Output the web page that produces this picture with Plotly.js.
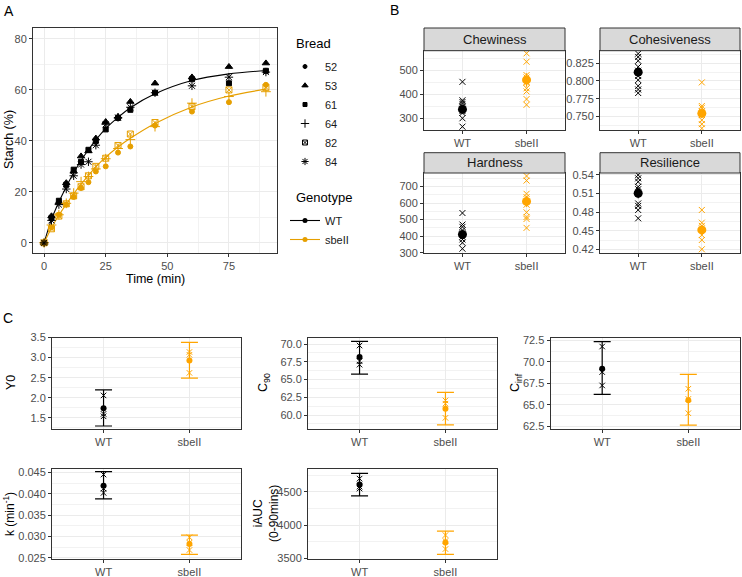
<!DOCTYPE html>
<html>
<head>
<meta charset="utf-8">
<script src="https://cdn.plot.ly/plotly-3.0.1.min.js"></script>
<style>
html,body{margin:0;padding:0;background:#fff}
#chart{width:742px;height:577px}
</style>
</head>
<body>
<div id="chart"></div>
<script>
// ---------- Panel A: starch digested over time, per bread ----------
const timeMin = [0, 3, 6, 9, 12, 15, 18, 21, 25, 30, 35, 45, 60, 75, 90];
// WT breads
const starch53 = [0, 10.5, 16, 23.5, 28, 34, 36, 41, 47.5, 49.5, 55.4, 62.6, 65, 69.1, 70.5];
const starch61 = [0, 9.8, 16.5, 22.8, 28.7, 31.8, 36.5, 40, 44.5, 49, 52.2, 58.9, 64.2, 62.6, 67.5];
const starch84 = [0, 8.8, 15, 21.1, 26.3, 30.7, 31.8, 38.3, 46.5, 49.2, 53.2, 58.9, 61.6, 65, 67];
// sbeII breads
const starch52 = [0, 6, 11, 15, 18, 21.5, 23.8, 28, 30, 35.4, 37.8, 46, 51.5, 55.2, 62];
const starch64 = [0, 7, 11, 15.5, 19.5, 24, 26, 29, 33, 37, 40.5, 45.6, 54.8, 57.4, 59.3];
const starch82 = [0, 5.5, 10.5, 15.3, 18.4, 22, 26.3, 30, 33.2, 38.2, 42.7, 47.2, 53.5, 60, 61];
// fitted digestion curves
const fitWT = [0, 9.2, 16, 22, 27.5, 32.3, 36.5, 40.4, 44.8, 49.2, 53, 58.5, 63.7, 66.3, 67.6];
const fitSbe = [0, 5.8, 10.8, 15.2, 19.2, 23, 26.5, 29.8, 33.6, 37.6, 41, 46.8, 53.3, 57.6, 60.3];
const breadLabels = ['52', '53', '61', '64', '82', '84'];
const genotypeLabels = ['WT', 'sbeII'];

// ---------- Panel B: texture profile ----------
const facetNames = ['Chewiness', 'Cohesiveness', 'Hardness', 'Resilience'];
const chewWT = [452, 375, 368, 360, 350, 340, 330, 322, 300, 265];
const chewSbe = [571, 536, 480, 470, 452, 448, 425, 412, 380, 356];
const chewMean = [337, 460];
const chewSE = [13, 28];
const cohWT = [0.8386, 0.834, 0.8286, 0.820, 0.8145, 0.807, 0.8014, 0.793, 0.788, 0.783];
const cohSbe = [0.798, 0.7646, 0.762, 0.7565, 0.7518, 0.7447, 0.739, 0.733];
const cohMean = [0.8125, 0.7542];
const cohSE = [0.0055, 0.006];
const hardWT = [540, 470, 456, 436, 416, 396, 380, 360, 324];
const hardSbe = [764, 736, 656, 636, 590, 544, 516, 504, 450];
const hardMean = [410, 610];
const hardSE = [20, 33];
const resWT = [0.540, 0.5346, 0.529, 0.521, 0.517, 0.494, 0.490, 0.4835, 0.470];
const resSbe = [0.4835, 0.463, 0.4578, 0.443, 0.435, 0.420];
const resMean = [0.5105, 0.4513];
const resSE = [0.008, 0.0075];

// ---------- Panel C: kinetic parameters (mean with interval) ----------
const y0WT = [2.06, 1.6, 1.54], y0Sbe = [3.14, 3.07, 2.62];
const y0Mean = [1.74, 2.93], y0Upper = [2.2, 3.38], y0Lower = [1.3, 2.49];
const c90WT = [69.8, 67.6, 67.1], c90Sbe = [62.06, 61.6, 59.6];
const c90Mean = [68.18, 60.9], c90Upper = [70.37, 63.2], c90Lower = [65.77, 58.6];
const cinfWT = [71.8, 68.83, 67.27], cinfSbe = [66.88, 65.7, 64.04];
const cinfMean = [69.2, 65.54], cinfUpper = [72.38, 68.55], cinfLower = [66.22, 62.65];
const kWT = [0.0445, 0.0412, 0.0402], kSbe = [0.0298, 0.0285, 0.0268];
const kMean = [0.0419, 0.0282], kUpper = [0.0452, 0.0303], kLower = [0.0388, 0.0258];
const aucWT = [4700, 4580, 4550], aucSbe = [3850, 3760, 3640];
const aucMean = [4610, 3740], aucUpper = [4780, 3910], aucLower = [4440, 3560];

// ---------- drawing ----------
const W = 742, H = 577;
const fx = p => p / W;
const fy = p => 1 - p / H;
const FONT = '"Liberation Sans", Arial, Helvetica, sans-serif';
const BLACK = '#000000';
const ORANGE_A = '#E69F00';
const ORANGE = '#FFA500';
const catX = [1, 2];

const layout = {
  width: W, height: H,
  margin: {l: 0, r: 0, t: 0, b: 0},
  paper_bgcolor: '#ffffff', plot_bgcolor: '#ffffff',
  font: {family: FONT, size: 11, color: '#4D4D4D'},
  showlegend: true,
  shapes: [], annotations: []
};

const baseAxis = {
  showline: true, mirror: true, linecolor: '#333333', linewidth: 1,
  ticks: 'outside', ticklen: 3, tickwidth: 1, tickcolor: '#333333',
  showgrid: true, gridcolor: '#EBEBEB', gridwidth: 1,
  zeroline: false, fixedrange: true,
  tickfont: {family: FONT, size: 11, color: '#4D4D4D'}
};

function addAxes(n, x0, x1, y0, y1, xopt, yopt) {
  const s = n === 1 ? '' : String(n);
  layout['xaxis' + s] = Object.assign({}, baseAxis, {domain: [fx(x0), fx(x1)], anchor: 'y' + s}, xopt);
  layout['yaxis' + s] = Object.assign({}, baseAxis, {domain: [fy(y1), fy(y0)], anchor: 'x' + s}, yopt);
}

const catAxis = {range: [0.4, 2.6], tickmode: 'array', tickvals: catX, ticktext: genotypeLabels};
function linAxis(range, dtick, fmt) {
  return {range: range, tick0: 0, dtick: dtick, tickformat: fmt || '',
    minor: {showgrid: true, gridcolor: '#F2F2F2', gridwidth: 1, dtick: dtick / 2, tick0: 0, ticks: ''}};
}

// Panel A axes
addAxes(1, 33, 277, 28, 253, linAxis([-4.5, 94.5], 25), linAxis([-4, 84.3], 20));

// Panel B facets
addAxes(2, 424, 565, 50.7, 130, catAxis, linAxis([251, 582], 100));
addAxes(3, 600, 740, 50.7, 130, catAxis, linAxis([0.7307, 0.8428], 0.025, '.3f'));
addAxes(4, 424, 565, 173, 253, catAxis, linAxis([298, 782], 100));
addAxes(5, 600, 740, 173, 253, catAxis, linAxis([0.414, 0.5432], 0.03, '.2f'));

// Panel C panels
addAxes(6, 52, 241, 337.5, 429, catAxis, linAxis([1.225, 3.5], 0.5, '.1f'));
addAxes(7, 308, 497, 337.5, 429, catAxis, linAxis([58.03, 70.93], 2.5, '.1f'));
addAxes(8, 550.5, 740, 337.5, 429, catAxis, linAxis([62.2, 72.85], 2.5, '.1f'));
addAxes(9, 52, 241, 469, 559, catAxis, linAxis([0.0247, 0.0458], 0.005, '.3f'));
addAxes(10, 308, 497, 469, 559, catAxis, linAxis([3490, 4845], 500));

const traces = [];

// --- Panel A traces ---
const breadSeries = [
  {vals: starch52, sym: 'circle', col: ORANGE_A, size: 5},
  {vals: starch53, sym: 'triangle-up', col: BLACK, size: 6.5},
  {vals: starch61, sym: 'square', col: BLACK, size: 5},
  {vals: starch64, sym: 'cross-thin-open', col: ORANGE_A, size: 7},
  {vals: starch82, sym: 'square-x-open', col: ORANGE_A, size: 6},
  {vals: starch84, sym: 'asterisk-open', col: BLACK, size: 7}
];
traces.push({type: 'scatter', mode: 'lines', x: timeMin, y: fitWT, xaxis: 'x', yaxis: 'y',
  line: {color: BLACK, width: 1.1, shape: 'spline', smoothing: 0.8}, showlegend: false, hoverinfo: 'skip'});
traces.push({type: 'scatter', mode: 'lines', x: timeMin, y: fitSbe, xaxis: 'x', yaxis: 'y',
  line: {color: ORANGE_A, width: 1.1, shape: 'spline', smoothing: 0.8}, showlegend: false, hoverinfo: 'skip'});
breadSeries.forEach((b, i) => {
  traces.push({type: 'scatter', mode: 'markers', x: timeMin, y: b.vals, xaxis: 'x', yaxis: 'y',
    name: breadLabels[i], showlegend: false, cliponaxis: false,
    marker: {symbol: b.sym, size: b.size, color: b.col, line: {color: b.col, width: 1}}});
});
// legend keys: Bread (black symbols)
breadSeries.forEach((b, i) => {
  traces.push({type: 'scatter', mode: 'markers', x: [null], y: [null], xaxis: 'x', yaxis: 'y',
    name: breadLabels[i], legend: 'legend', showlegend: true,
    marker: {symbol: b.sym, size: b.size - 1, color: BLACK, line: {color: BLACK, width: 1}}});
});
// legend keys: Genotype
[[genotypeLabels[0], BLACK], [genotypeLabels[1], ORANGE_A]].forEach(g => {
  traces.push({type: 'scatter', mode: 'lines+markers', x: [null], y: [null], xaxis: 'x', yaxis: 'y',
    name: g[0], legend: 'legend2', showlegend: true,
    line: {color: g[1], width: 1.1}, marker: {symbol: 'circle', size: 5, color: g[1]}});
});

// --- Panel B traces ---
function facet(n, wt, sbe, mean, se) {
  const ax = 'x' + n, ay = 'y' + n;
  [[wt, 1, BLACK], [sbe, 2, ORANGE]].forEach(g => {
    traces.push({type: 'scatter', mode: 'markers', x: g[0].map(() => g[1]), y: g[0], xaxis: ax, yaxis: ay,
      showlegend: false, marker: {symbol: 'x-thin-open', size: 6, color: g[2], line: {color: g[2], width: 1}}});
  });
  [[0, BLACK], [1, ORANGE]].forEach(g => {
    const i = g[0];
    traces.push({type: 'scatter', mode: 'markers', x: [catX[i]], y: [mean[i]], xaxis: ax, yaxis: ay, showlegend: false,
      error_y: {type: 'data', array: [se[i]], visible: true, thickness: 1.2, width: 0, color: g[1]},
      marker: {symbol: 'circle', size: 9, color: g[1]}});
  });
}
facet(2, chewWT, chewSbe, chewMean, chewSE);
facet(3, cohWT, cohSbe, cohMean, cohSE);
facet(4, hardWT, hardSbe, hardMean, hardSE);
facet(5, resWT, resSbe, resMean, resSE);

// --- Panel C traces ---
function param(n, wt, sbe, mean, upper, lower) {
  const ax = 'x' + n, ay = 'y' + n;
  [[0, BLACK], [1, ORANGE]].forEach(g => {
    const i = g[0];
    traces.push({type: 'scatter', mode: 'markers', x: [catX[i]], y: [mean[i]], xaxis: ax, yaxis: ay, showlegend: false,
      error_y: {type: 'data', symmetric: false, array: [upper[i] - mean[i]], arrayminus: [mean[i] - lower[i]],
        visible: true, thickness: 1.2, width: 8.5, color: g[1]},
      marker: {symbol: 'circle', size: 6, color: g[1]}});
  });
  [[wt, 1, BLACK], [sbe, 2, ORANGE]].forEach(g => {
    traces.push({type: 'scatter', mode: 'markers', x: g[0].map(() => g[1]), y: g[0], xaxis: ax, yaxis: ay,
      showlegend: false, marker: {symbol: 'x-thin-open', size: 5.5, color: g[2], line: {color: g[2], width: 1}}});
  });
}
param(6, y0WT, y0Sbe, y0Mean, y0Upper, y0Lower);
param(7, c90WT, c90Sbe, c90Mean, c90Upper, c90Lower);
param(8, cinfWT, cinfSbe, cinfMean, cinfUpper, cinfLower);
param(9, kWT, kSbe, kMean, kUpper, kLower);
param(10, aucWT, aucSbe, aucMean, aucUpper, aucLower);

// --- legends (titles drawn as separate labels) ---
const legendBase = {
  xanchor: 'left', yanchor: 'top',
  font: {family: FONT, size: 11, color: '#1A1A1A'},
  bgcolor: 'rgba(0,0,0,0)', borderwidth: 0, itemwidth: 30, tracegroupgap: 0
};
layout.legend = Object.assign({}, legendBase, {x: fx(285), y: fy(52)});
layout.legend2 = Object.assign({}, legendBase, {x: fx(285), y: fy(206)});
function leftLabel(text, px, py) {
  layout.annotations.push({xref: 'paper', yref: 'paper', x: fx(px), y: fy(py), text: text, showarrow: false,
    xanchor: 'left', yanchor: 'middle', font: {family: FONT, size: 13, color: '#000'}});
}
leftLabel('Bread', 294, 43);
leftLabel('Genotype', 294, 197);

// --- facet strips ---
const strips = [
  [424, 565, 28, 50.7, facetNames[0]],
  [600, 740, 28, 50.7, facetNames[1]],
  [424, 565, 152.7, 173, facetNames[2]],
  [600, 740, 152.7, 173, facetNames[3]]
];
strips.forEach(s => {
  layout.shapes.push({type: 'rect', xref: 'paper', yref: 'paper', x0: fx(s[0]), x1: fx(s[1]), y0: fy(s[3]), y1: fy(s[2]),
    fillcolor: '#D9D9D9', line: {color: '#333333', width: 1}, layer: 'above'});
  layout.annotations.push({xref: 'paper', yref: 'paper', x: fx((s[0] + s[1]) / 2), y: fy((s[2] + s[3]) / 2),
    text: s[4], showarrow: false, font: {family: FONT, size: 13, color: '#1A1A1A'}, xanchor: 'center', yanchor: 'middle'});
});

// --- text labels ---
function label(text, px, py, size, angle) {
  layout.annotations.push({xref: 'paper', yref: 'paper', x: fx(px), y: fy(py), text: text, showarrow: false,
    textangle: angle || 0, xanchor: 'center', yanchor: 'middle', font: {family: FONT, size: size, color: '#000'}});
}
label('A', 9, 11, 14);
label('B', 394, 10, 14);
label('C', 8, 318, 14);
label('Starch (%)', 9, 140, 12.5, -90);
label('Time (min)', 155, 279, 12.5);
label('Y0', 11, 383, 12.5, -90);
label('C<sub>90</sub>', 264, 383, 12.5, -90);
label('C<sub>inf</sub>', 516, 383, 12.5, -90);
label('k (min<sup>-1</sup>)', 9, 514, 12, -90);
label('iAUC<br>(0-90mins)', 266, 514, 12, -90);

Plotly.newPlot('chart', traces, layout, {displayModeBar: false, staticPlot: true});
</script>
</body>
</html>
